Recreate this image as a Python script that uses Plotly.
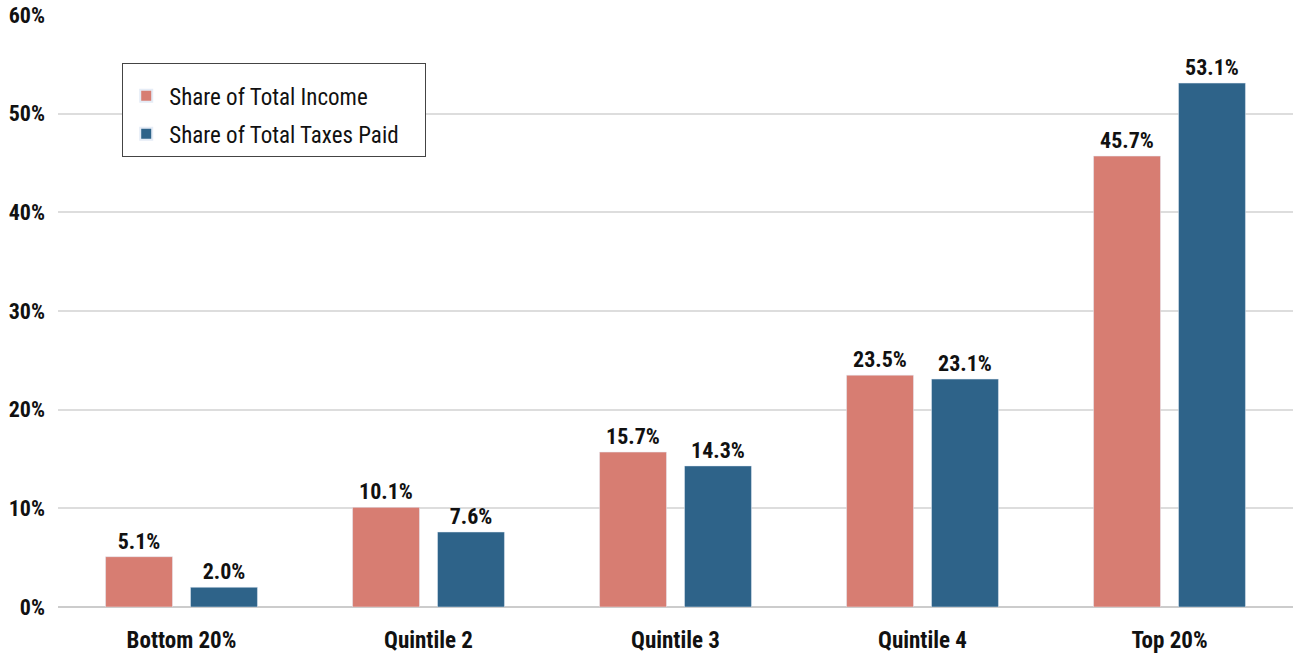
import plotly.graph_objects as go

categories = ["Bottom 20%", "Quintile 2", "Quintile 3", "Quintile 4", "Top 20%"]
income_share = [5.1, 10.1, 15.7, 23.5, 45.7]
taxes_share = [2.0, 7.6, 14.3, 23.1, 53.1]
y_ticks = [0, 10, 20, 30, 40, 50, 60]
y_tick_labels = [f"{v}%" for v in y_ticks]

FONT = "Roboto Condensed, Liberation Sans Narrow, DejaVu Sans Condensed, Roboto, sans-serif"

fig = go.Figure()
fig.add_trace(go.Bar(
    x=categories, y=income_share, name="Share of Total Income",
    legendgroup="income",
    marker=dict(color="#D77D72"),
    text=[f"{v:.1f}%" for v in income_share], textposition="outside",
    textfont=dict(family=FONT, size=22, color="#111111", weight="bold"),
    cliponaxis=False,
))
fig.add_trace(go.Bar(
    x=categories, y=taxes_share, name="Share of Total Taxes Paid\u00a0\u00a0\u00a0\u00a0",
    legendgroup="taxes",
    marker=dict(color="#2E6389"),
    text=[f"{v:.1f}%" for v in taxes_share], textposition="outside",
    textfont=dict(family=FONT, size=22, color="#111111", weight="bold"),
    cliponaxis=False,
))

fig.update_layout(
    width=1297, height=655,
    margin=dict(l=58, r=4, t=15, b=48, autoexpand=False),
    paper_bgcolor="white", plot_bgcolor="white",
    barmode="group", bargap=0.312, bargroupgap=0.212,
    font=dict(family=FONT, size=20, color="#111111"),
    legend=dict(
        x=0.052, y=0.919, xanchor="left", yanchor="top",
        bgcolor="white", bordercolor="#444444", borderwidth=1,
        font=dict(family=FONT, size=23, color="#111111"),
        itemsizing="constant", itemwidth=36, tracegroupgap=5,
        title=dict(text=" ", font=dict(size=8)),
    ),
)
fig.update_xaxes(
    tickfont=dict(family=FONT, size=23, color="#111111", weight="bold"),
    showline=False, ticks="", showgrid=False, ticklabelstandoff=17,
    automargin=False,
)
fig.update_yaxes(
    range=[0, 60], tickvals=y_ticks, ticktext=y_tick_labels,
    tickfont=dict(family=FONT, size=22, color="#111111", weight="bold"),
    showgrid=True, gridcolor="#dddddd", gridwidth=2,
    zeroline=True, zerolinecolor="#cccccc", zerolinewidth=2,
    ticks="", ticklabelstandoff=12, ticklabeloverflow="allow",
    automargin=False,
)

fig.write_html(
    "out.html",
    config={"displayModeBar": False},
    post_script="document.body.style.margin='0';document.body.style.overflow='hidden';",
)
